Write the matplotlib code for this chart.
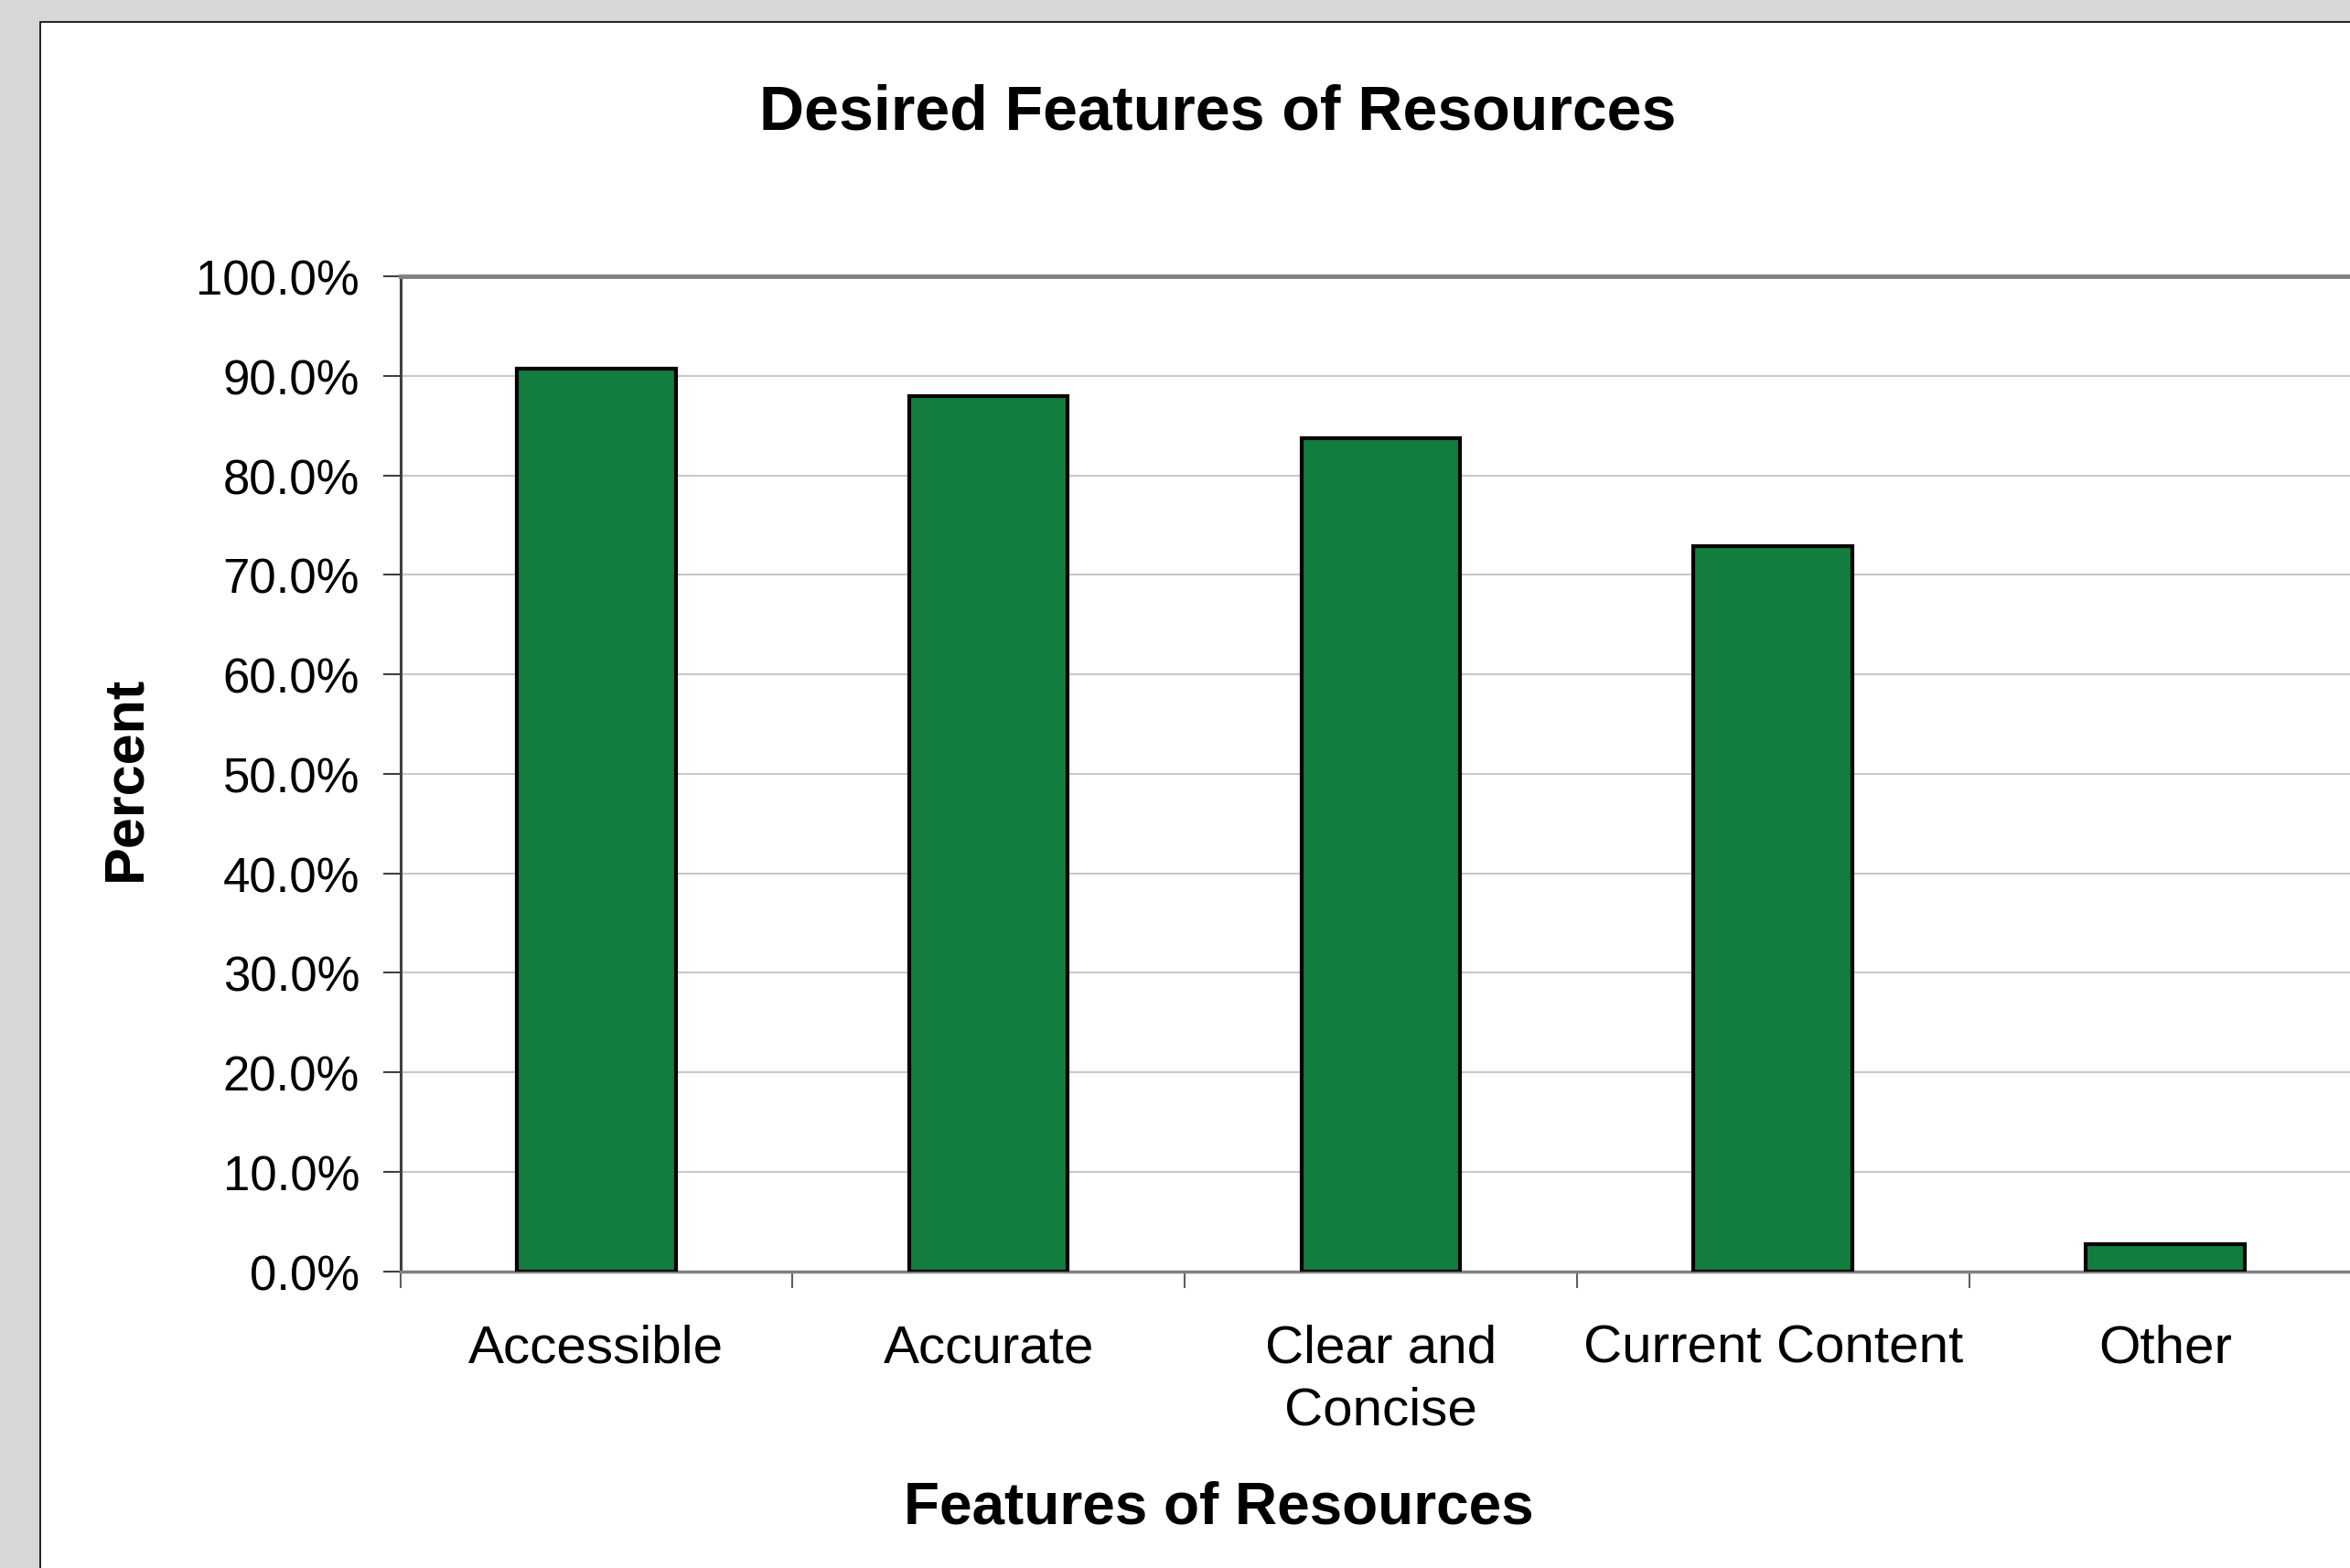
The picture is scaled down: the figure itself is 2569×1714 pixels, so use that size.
import numpy as np
import matplotlib
matplotlib.use("Agg")
import matplotlib.pyplot as plt
from matplotlib.patches import Rectangle
from matplotlib.ticker import FixedLocator, PercentFormatter

# data
categories = ["Accessible", "Accurate", "Clear and\nConcise", "Current Content", "Other"]
percents = [90.7, 88.0, 83.7, 72.9, 2.7]
y_ticks = [0, 10, 20, 30, 40, 50, 60, 70, 80, 90, 100]

bar_color = "#137c3f"
font = ["Liberation Sans", "DejaVu Sans"]
plt.rcParams["font.family"] = font

fig = plt.figure(figsize=(25.69, 17.15), dpi=100, facecolor="#d6d7d6")

# white chart panel with black frame (runs off the right/bottom edge)
bg = fig.add_axes([0, 0, 1, 1], zorder=-1)
bg.set_axis_off()
bg.set_xlim(0, 1)
bg.set_ylim(0, 1)
bg.add_patch(Rectangle((0.0172, -0.05), 1.1, 1.0357, facecolor="white",
                       edgecolor="black", linewidth=1.2))

ax = fig.add_axes([0.1703, 0.1891, 0.8345, 0.6342], zorder=1)
ax.set_facecolor("white")

x = np.arange(len(categories))
ax.bar(x, percents, width=0.405, color=bar_color, edgecolor="black",
       linewidth=3, zorder=3)

ax.set_xlim(-0.5, len(categories) - 0.5)
ax.set_ylim(0, 100)

ax.yaxis.set_major_locator(FixedLocator(y_ticks))
ax.yaxis.set_major_formatter(PercentFormatter(decimals=1))
ax.grid(axis="y", color="#c8c8c8", linewidth=1.5, zorder=0)
ax.set_axisbelow(True)

ax.set_xticks(x)
ax.set_xticklabels(categories, linespacing=1.32)
ax.set_xticks(np.arange(-0.5, len(categories)), minor=True)
ax.tick_params(axis="x", which="major", length=0, pad=41, labelsize=42)
ax.tick_params(axis="x", which="minor", length=13, width=1.5, color="#606060",
               direction="out")
ax.tick_params(axis="y", length=14, width=1.5, color="#404040", pad=18,
               labelsize=38)

ax.spines["left"].set_color("#404040")
ax.spines["left"].set_linewidth(2.2)
ax.spines["bottom"].set_color("#808080")
ax.spines["bottom"].set_linewidth(2.5)
ax.spines["top"].set_color("#808080")
ax.spines["top"].set_linewidth(3.5)
ax.spines["right"].set_visible(False)

fig.text(0.518, 0.928, "Desired Features of Resources", ha="center",
         va="center", fontsize=49, fontweight="bold")
fig.text(0.5185, 0.039, "Features of Resources", ha="center", va="center",
         fontsize=46, fontweight="bold")
fig.text(0.0536, 0.504, "Percent", ha="center", va="center", rotation=90,
         fontsize=44, fontweight="bold")

fig.savefig("out.png", dpi=100, facecolor=fig.get_facecolor())
